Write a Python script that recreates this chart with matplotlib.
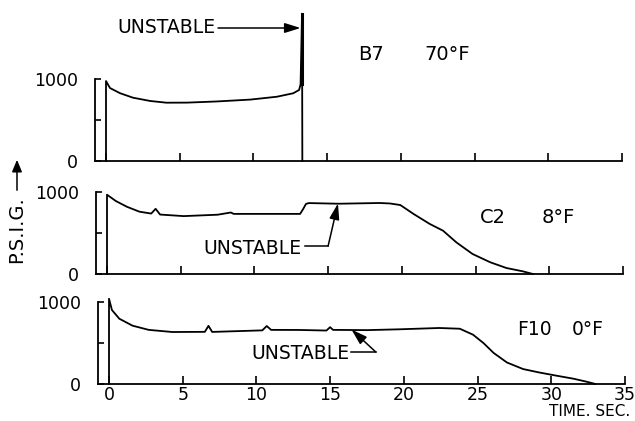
import matplotlib.pyplot as plt

# pressure traces (time in sec, pressure in psig)
b7_t = [0, 0, 0.27, 0.95, 1.83, 3.0, 4.1, 5.5, 7.5, 9.8, 11.6, 12.7, 13.1,
        13.2, 13.3, 13.32]
b7_p = [0, 975, 890, 827, 772, 732, 711, 712, 726, 749, 784, 826, 866,
        935, 1790, 0]

c2_t = [0, 0, 0.25, 0.6, 1.35, 2.2, 3.0, 3.3, 3.6, 5.2, 7.5, 8.4, 8.6, 10.85,
        13.1, 13.3, 13.5, 13.7, 15.7, 17.6, 18.5, 19.2, 19.9, 20.8, 21.9,
        22.8, 23.7, 24.8, 26.0, 27.1, 28.2, 28.9]
c2_p = [0, 967, 935, 890, 820, 760, 737, 795, 725, 706, 723, 750, 733, 733,
        733, 790, 855, 865, 857, 863, 866, 860, 841, 732, 610,
        528, 386, 244, 143, 73, 33, 0]

f10_t = [0, 0, 0.2, 0.7, 1.6, 2.7, 4.3, 6.5, 6.75, 7.0, 8.4, 10.4, 10.7, 11.0,
         12.9, 14.75, 15.0, 15.2, 17.5, 19.7, 22.4, 23.8, 24.7, 25.4, 26.1,
         27.0, 28.1, 29.2, 30.4, 31.5, 32.4, 33.0]
f10_p = [0, 1040, 902, 796, 711, 660, 634, 636, 709, 635, 643, 654, 707, 660,
         659, 652, 693, 660, 657, 667, 683, 674, 601, 500, 378,
         262, 182, 140, 100, 65, 28, 0]

run_names = ['B7', 'C2', 'F10']
run_temps = ['70°F', '8°F', '0°F']
x_ticks = [0, 5, 10, 15, 20, 25, 30, 35]
y_ticks = [0, 500, 1000]
y_labels = ['0', '', '1000']

plt.rcParams['font.family'] = 'DejaVu Sans'

W, H = 635, 421
SX = 14.74   # px per second
SY = 82      # px per 1000 psig

fig = plt.figure(figsize=(W / 100, H / 100), dpi=100)


def add_panel(left_px, t0_px, base_px, ymax):
    right_px = t0_px + 35 * SX
    top_px = base_px - ymax / 1000 * SY
    ax = fig.add_axes([left_px / W, 1 - base_px / H,
                       (right_px - left_px) / W, (base_px - top_px) / H])
    ax.set_xlim(-(t0_px - left_px) / SX, 35)
    ax.set_ylim(0, ymax)
    for s in ['top', 'right']:
        ax.spines[s].set_visible(False)
    ax.spines['left'].set_bounds(0, 1000)
    ax.spines['left'].set_linewidth(1.3)
    ax.spines['bottom'].set_linewidth(1.3)
    ax.set_xticks(x_ticks)
    ax.set_yticks(y_ticks)
    ax.set_yticklabels(y_labels)
    ax.tick_params(axis='x', direction='in', length=5.5, width=1.2, pad=1.5,
                   labelsize=12.5)
    ax.tick_params(axis='y', direction='in', length=4, width=1.2, pad=12,
                   labelsize=12.5)
    ax.patch.set_alpha(0)
    return ax


ax1 = add_panel(95, 106, 161, 1900)
ax2 = add_panel(96, 107, 274, 1000)
ax3 = add_panel(98, 109, 384, 1100)

for ax in (ax1, ax2):
    ax.tick_params(axis='x', labelbottom=False)

lw = 1.3
ax1.plot(b7_t, b7_p, color='black', lw=lw, clip_on=False)
ax1.plot([13.3, 13.3], [935, 1790], color='black', lw=2.2)
ax2.plot(c2_t, c2_p, color='black', lw=lw, clip_on=False)
ax3.plot(f10_t, f10_p, color='black', lw=lw, clip_on=False)

head = '-|>,head_length=0.8,head_width=0.25'

# B7
ax1.text(7.45, 1622, 'UNSTABLE', ha='right', va='center', fontsize=13.5)
ax1.annotate('', xy=(13.2, 1622), xytext=(7.6, 1622),
             arrowprops=dict(arrowstyle=head, color='black', lw=1.1,
                             mutation_scale=12, shrinkA=0, shrinkB=0))
ax1.text(17.1, 1296, run_names[0], ha='left', va='center', fontsize=14)
ax1.text(21.6, 1296, run_temps[0], ha='left', va='center', fontsize=14)

# C2
ax2.text(13.2, 305, 'UNSTABLE', ha='right', va='center', fontsize=13.5)
ax2.plot([13.4, 15.0], [341, 341], color='black', lw=1.1)
ax2.annotate('', xy=(15.67, 860), xytext=(15.0, 341),
             arrowprops=dict(arrowstyle=head, color='black', lw=1.1,
                             mutation_scale=12, shrinkA=0, shrinkB=0))
ax2.text(25.3, 695, run_names[1], ha='left', va='center', fontsize=14)
ax2.text(29.5, 695, run_temps[1], ha='left', va='center', fontsize=14)

# F10
ax3.text(16.3, 366, 'UNSTABLE', ha='right', va='center', fontsize=13.5)
ax3.plot([16.45, 18.1], [390, 390], color='black', lw=1.1)
ax3.annotate('', xy=(16.45, 665), xytext=(18.1, 390),
             arrowprops=dict(arrowstyle=head, color='black', lw=1.1,
                             mutation_scale=12, shrinkA=0, shrinkB=0))
ax3.text(27.7, 670, run_names[2], ha='left', va='center', fontsize=13.5)
ax3.text(31.4, 670, run_temps[2], ha='left', va='center', fontsize=13.5)

# shared labels
fig.text(17 / W, 1 - 230 / H, 'P.S.I.G.', rotation=90, ha='center',
         va='center', fontsize=14)
fig.add_artist(plt.matplotlib.patches.FancyArrowPatch(
    (17 / W, 1 - 193 / H), (17 / W, 1 - 157 / H), transform=fig.transFigure,
    arrowstyle='-|>,head_length=0.6,head_width=0.25', mutation_scale=12,
    color='black', lw=1.1))
fig.text(630 / W, 1 - 412 / H, 'TIME. SEC.', ha='right', va='center',
         fontsize=11)

fig.savefig('out.png', dpi=100)
